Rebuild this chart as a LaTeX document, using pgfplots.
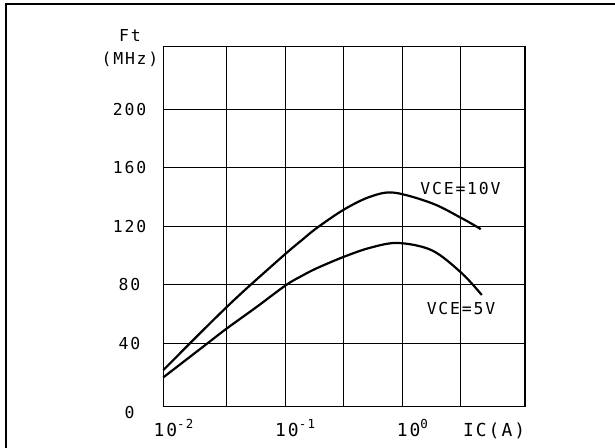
\documentclass[border=0pt]{standalone}
\usepackage{pgfplots}
\pgfplotsset{compat=1.18}
\usepackage{fontspec}
\newfontfamily\plotfont{DejaVu Sans Mono}[LetterSpace=11]
\newcommand\lbl{\plotfont\fontsize{16.5}{18}\selectfont}
\newcommand\xlbl{\plotfont\fontsize{18}{20}\selectfont}
\newcommand\expo[1]{\raisebox{8.4bp}{\plotfont\fontsize{12.5}{14}\selectfont#1}}

\begin{document}
\begin{tikzpicture}[x=1bp,y=1bp]
\useasboundingbox (0,0) rectangle (615,448);
\draw[line width=2bp] (6,-20) -- (6,443.5) -- (640,443.5);
\begin{axis}[
  at={(163.3bp,41.3bp)}, anchor=south west,
  scale only axis, width=361.7bp, height=360bp,
  xmode=log, xmin=0.00908, xmax=11.2,
  ymin=-3.35, ymax=242.8,
  xtick={0.031623,0.1,0.31623,1,3.1623}, xticklabels={},
  ytick={40,80,120,160,200},
  yticklabels={40,80,120,160,200},
  extra y ticks={-3.35}, extra y tick labels={0},
  extra y tick style={grid=none, yticklabel style={yshift=-6bp}},
  grid=major,
  major grid style={line width=0.9bp, black},
  axis line style={line width=1.3bp},
  major tick length=0pt, minor tick length=0pt,
  yticklabel style={font=\lbl, anchor=center, xshift=-33.8bp},
  clip=false,
]
% VCE = 10 V
\addplot[line width=2.2bp, smooth, tension=0.55] coordinates {
  (0.00908,21.7) (0.01535,40) (0.01995,49.1) (0.03162,64.8) (0.04842,78.6)
  (0.1016,101.5) (0.138,110.4) (0.1858,118.8) (0.3184,131.5) (0.531,140.2)
  (0.85,143.0) (1.80,135.7) (3.228,125.5) (4.335,119.7) (4.688,118)
};
% VCE = 5 V
\addplot[line width=2.2bp, smooth, tension=0.55] coordinates {
  (0.00908,16.7) (0.02168,40) (0.03162,50.1) (0.0562,64.5) (0.1016,79.8)
  (0.138,86.0) (0.1858,91.3) (0.3184,99.2) (0.531,105.3) (0.920,108.6)
  (1.80,103.5) (3.228,87.9) (4.786,73.0)
};
\end{axis}
\node[font=\lbl] at (130,412) {Ft};
\node[font=\lbl] at (130,389) {(MHz)};
\node[font=\lbl] at (460.5,259) {VCE=10V};
\node[font=\lbl] at (461,139) {VCE=5V};
\node[anchor=base west, inner sep=0pt, font=\xlbl] at (153.3,11.3) {10\expo{-2}};
\node[anchor=base west, inner sep=0pt, font=\xlbl] at (275,11.3) {10\expo{-1}};
\node[anchor=base west, inner sep=0pt, font=\xlbl] at (396.7,11.3) {10\expo{0}};
\node[anchor=base west, inner sep=0pt, font=\xlbl] at (463,11.3) {IC(A)};
\end{tikzpicture}
\end{document}
